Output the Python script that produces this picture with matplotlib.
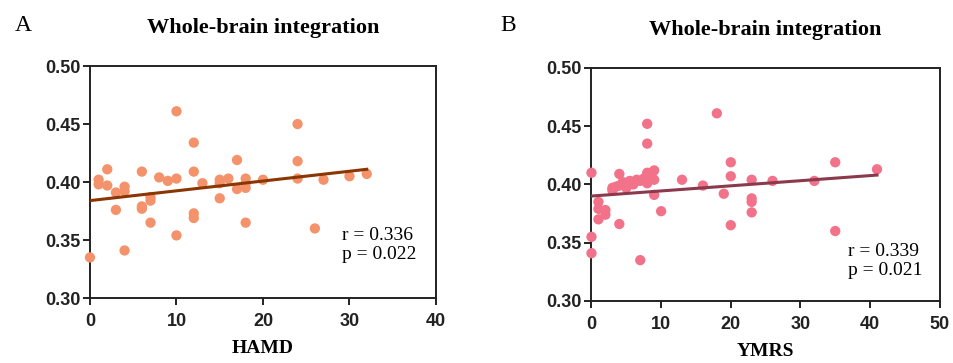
import numpy as np
import matplotlib
matplotlib.use("Agg")
import matplotlib.pyplot as plt

# panel A: HAMD vs whole-brain integration
hamd = [0, 1, 1, 2, 2, 3, 3, 4, 4, 4, 6, 6, 6, 7, 7, 7, 8, 9, 10, 10, 10,
        12, 12, 12, 12, 13, 15, 15, 15, 16, 17, 17, 18, 18, 18, 18, 20,
        24, 24, 24, 26, 27, 30, 32]
integ_a = [0.335, 0.402, 0.398, 0.397, 0.411, 0.391, 0.376, 0.396, 0.392, 0.341,
           0.409, 0.379, 0.377, 0.387, 0.384, 0.365, 0.404, 0.401, 0.403, 0.461,
           0.354, 0.434, 0.409, 0.373, 0.369, 0.399, 0.402, 0.399, 0.386, 0.403,
           0.419, 0.394, 0.403, 0.399, 0.395, 0.365, 0.402, 0.450, 0.418, 0.403,
           0.360, 0.402, 0.405, 0.407]
line_a = [0.384, 0.411]  # fitted line at x=0 and x=32

# panel B: YMRS vs whole-brain integration
ymrs = [0, 0, 0, 1, 1, 1, 2, 2, 3, 3, 4, 4, 4, 5, 5, 6, 7, 7, 8, 8, 8, 8, 8,
        9, 9, 9, 10, 13, 16, 18, 19, 20, 20, 20, 23, 23, 23, 23, 26, 32, 35, 35, 41,
        3.5, 4.5, 5.5, 6.5, 7.5, 8.5]
integ_b = [0.410, 0.355, 0.341, 0.385, 0.379, 0.370, 0.378, 0.374, 0.397, 0.395,
           0.409, 0.399, 0.366, 0.401, 0.397, 0.400, 0.403, 0.335, 0.452, 0.435,
           0.410, 0.405, 0.401, 0.412, 0.404, 0.391, 0.377, 0.404, 0.399, 0.461,
           0.392, 0.419, 0.407, 0.365, 0.404, 0.388, 0.385, 0.376, 0.403, 0.403,
           0.419, 0.360, 0.413,
           0.398, 0.402, 0.403, 0.404, 0.405, 0.406]
line_b = [0.390, 0.408]  # fitted line at x=0 and x=41

sans = ["Liberation Sans", "DejaVu Sans"]
serif = ["Liberation Serif", "DejaVu Serif"]

fig = plt.figure(figsize=(9.54, 3.63), dpi=100)

panels = [
    dict(rect=[0.0943, 0.179, 0.3627, 0.639], x=hamd, y=integ_a, lx=[0, 32], ly=line_a,
         pc="#F4936B", lc="#8B3500", xmax=40, xl="HAMD", letter="A", lpos=0.015,
         r="r = 0.336", p="p = 0.022", tx=0.728, ty=0.228),
    dict(rect=[0.620, 0.171, 0.365, 0.642], x=ymrs, y=integ_b, lx=[0, 41], ly=line_b,
         pc="#F2728A", lc="#8A3A4C", xmax=50, xl="YMRS", letter="B", lpos=0.524,
         r="r = 0.339", p="p = 0.021", tx=0.736, ty=0.17),
]

for pn in panels:
    ax = fig.add_axes(pn["rect"])
    ax.scatter(pn["x"], pn["y"], s=55, color=pn["pc"], edgecolors="none",
               zorder=3, clip_on=False)
    ax.plot(pn["lx"], pn["ly"], color=pn["lc"], lw=2.2, zorder=4)
    ax.set_xlim(0, pn["xmax"])
    ax.set_ylim(0.30, 0.50)
    ax.set_xticks(np.arange(0, pn["xmax"] + 1, 10))
    ax.set_yticks([0.30, 0.35, 0.40, 0.45, 0.50])
    ax.set_yticklabels(["0.30", "0.35", "0.40", "0.45", "0.50"])
    for sp in ax.spines.values():
        sp.set_linewidth(1.4)
        sp.set_color("#222222")
    ax.tick_params(direction="out", length=5, width=1.4, color="#222222")
    ax.tick_params(axis="x", pad=6)
    ax.tick_params(axis="y", pad=2)
    for lab in ax.get_xticklabels() + ax.get_yticklabels():
        lab.set_fontfamily(sans)
        lab.set_fontweight("bold")
        lab.set_fontsize(13)
        lab.set_color("#222222")
    ax.set_xlabel(pn["xl"], family=serif, weight="bold", fontsize=14, labelpad=7)
    ax.set_title("Whole-brain integration", family=serif, weight="bold",
                 fontsize=16, pad=24)
    ax.text(pn["tx"], pn["ty"], pn["r"] + "\n" + pn["p"], transform=ax.transAxes,
            family=serif, fontsize=14, va="center", ha="left", linespacing=1.15)
    fig.text(pn["lpos"], 0.93, pn["letter"], family=serif, fontsize=17, va="center")

fig.savefig("out.png", dpi=100)
